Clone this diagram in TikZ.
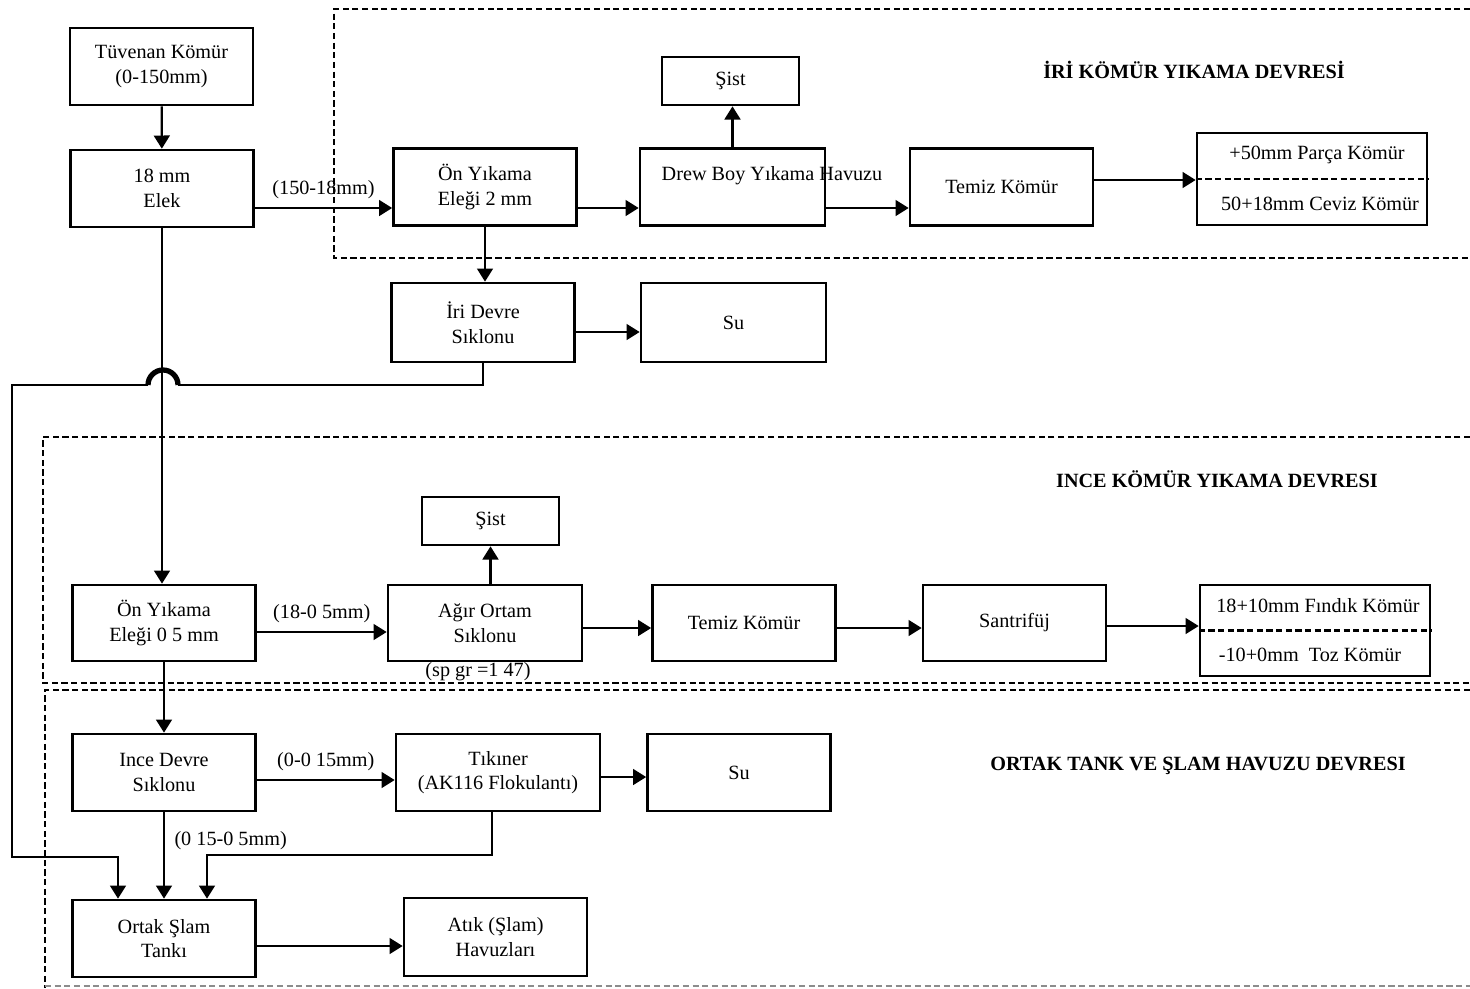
\documentclass[tikz,border=0pt]{standalone}
\usepackage{fontspec}
\setmainfont{Liberation Serif}
\usetikzlibrary{arrows.meta,calc,positioning}

\begin{document}
\begin{tikzpicture}[x=0.2mm,y=0.2mm,
  font=\fontsize{11.5}{14}\selectfont,
  blok/.style={draw,line width=1.5pt,inner sep=0pt,align=center,minimum width=36.6mm,minimum height=15.4mm},
  sistblok/.style={blok,minimum width=27.4mm,minimum height=9.6mm},
  urunblok/.style={blok,minimum width=46mm,minimum height=18.4mm},
  ok/.style={line width=1.3pt,-{Triangle[length=7.5pt,width=9pt]}},
  hat/.style={line width=1.3pt},
  cerceve/.style={line width=1pt,dash pattern=on 3.5pt off 2pt},
  baslik/.style={font=\fontsize{11.5}{14}\selectfont\bfseries}]
  \useasboundingbox (0,0) rectangle (1470,-988);
  % devre cerceveleri
  \draw[cerceve] (1470,-9) -- (334,-9) -- (334,-258) -- (1470,-258);
  \draw[cerceve] (1470,-437) -- (43,-437) -- (43,-683) -- (1470,-683);
  \draw[cerceve] (1470,-690) -- (45,-690) -- (45,-988);
  \draw[cerceve,black!45] (45,-986) -- (1470,-986);
  \node[baslik] (iribaslik) at (1194,-70) {İRİ KÖMÜR YIKAMA DEVRESİ};
  \node[baslik] (incebaslik) at (1217,-479) {INCE KÖMÜR YIKAMA DEVRESI};
  \node[baslik] (ortakbaslik) at (1198,-766) {ORTAK TANK VE ŞLAM HAVUZU DEVRESI};

  % iri komur
  \node[blok] (tuvenan) at (161.5,-66.5) {Tüvenan Kömür\\(0-150mm)};
  \node[blok] (elek) at (162,-188.5) {18 mm\\Elek};
  \node[blok] (onyikama1) at (485,-187) {Ön Yıkama\\Eleği 2 mm};
  \node[blok,minimum width=37mm] (drew) at (732.5,-187) {};
  \node (drewyazi) at (772,-176) {Drew Boy Yıkama Havuzu};
  \node[sistblok] (sist1) at (730.5,-81) {Şist};
  \node[blok] (temiz1) at (1001.5,-187) {Temiz Kömür};
  \node[urunblok] (urun1) at (1312,-179) {};
  \node (parca) at (1317,-155) {+50mm Parça Kömür};
  \node (ceviz) at (1320,-204) {50+18mm Ceviz Kömür};
  \draw[cerceve,line width=1.2pt] (urun1.west) -- (urun1.east);
  \node[blok,minimum height=15.8mm] (iridevre) at (483,-322.5) {İri Devre\\Sıklonu};
  \node[blok,minimum width=37mm,minimum height=15.8mm] (su1) at (733.5,-322.5) {Su};

  % ince komur
  \node[blok,minimum height=15.2mm] (onyikama2) at (164,-623) {Ön Yıkama\\Eleği 0 5 mm};
  \node[blok,minimum width=38.8mm,minimum height=15.2mm] (agir) at (485,-623) {Ağır Ortam\\Sıklonu};
  \node[sistblok] (sist2) at (490.5,-521) {Şist};
  \node (spgr) at (478,-672) {(sp gr =1 47)};
  \node[blok,minimum height=15.2mm] (temiz2) at (744,-623) {Temiz Kömür};
  \node[blok,minimum height=15.2mm] (santrifuj) at (1014.5,-623) {Santrifüj};
  \node[urunblok,minimum height=18.2mm] (urun2) at (1315,-630.5) {};
  \node (findik) at (1318,-606) {18+10mm Fındık Kömür};
  \node (toz) at (1310,-655) {-10+0mm~~Toz Kömür};
  \draw[cerceve,line width=1.2pt] (urun2.west) -- (urun2.east);

  % ortak tank
  \node[blok] (incedevre) at (164,-772.5) {Ince Devre\\Sıklonu};
  \node[blok,minimum width=40.8mm] (tikiner) at (498,-772.5) {Tıkıner\\(AK116 Flokulantı)};
  \node[blok] (su3) at (739,-772.5) {Su};
  \node[blok] (ortak) at (164,-938.5) {Ortak Şlam\\Tankı};
  \node[blok,minimum height=15.6mm] (atik) at (495.5,-937) {Atık (Şlam)\\Havuzları};

  % baglantilar
  \draw[ok] (tuvenan) -- (elek);
  \draw[ok] (elek.east |- 0,-208) -- node[above=1pt] (etiket1) {(150-18mm)} (onyikama1.west |- 0,-208);
  \draw[ok] (onyikama1.east |- 0,-208) -- (drew.west |- 0,-208);
  \draw[ok] (drew.east |- 0,-208) -- (temiz1.west |- 0,-208);
  \draw[ok] (drew.north) -- (drew.north |- sist1.south);
  \draw[ok] (temiz1.east |- 0,-180) -- (urun1.west |- 0,-180);
  \draw[ok] (onyikama1.south) -- (onyikama1.south |- iridevre.north);
  \draw[ok] (iridevre.east |- 0,-332) -- (su1.west |- 0,-332);
  \draw[ok] (elek.south) -- (elek.south |- onyikama2.north);
  \draw[hat] (iridevre.south) |- (178,-385);
  \draw[line width=3pt] (178,-385) arc[start angle=0,end angle=180,radius=15];
  \draw[ok] (148,-385) -- (12,-385) |- (118,-857) -- (ortak.north -| 118,0);

  \draw[ok] (onyikama2.east |- 0,-632) -- node[above=1pt] (etiket2) {(18-0 5mm)} (agir.west |- 0,-632);
  \draw[ok] (sist2.south |- agir.north) -- (sist2.south);
  \draw[ok] (agir.east |- 0,-628) -- (temiz2.west |- 0,-628);
  \draw[ok] (temiz2.east |- 0,-628) -- (santrifuj.west |- 0,-628);
  \draw[ok] (santrifuj.east |- 0,-626) -- (urun2.west |- 0,-626);
  \draw[ok] (onyikama2.south) -- (onyikama2.south |- incedevre.north);

  \draw[ok] (incedevre.east |- 0,-780) -- node[above=1pt] (etiket3) {(0-0 15mm)} (tikiner.west |- 0,-780);
  \draw[ok] (tikiner.east |- 0,-777) -- (su3.west |- 0,-777);
  \draw[ok] (incedevre.south) -- node[right=2pt,pos=0.33] (etiket4) {(0 15-0 5mm)} (incedevre.south |- ortak.north);
  \draw[ok] (tikiner.south -| 492,0) |- (207,-855) -- (ortak.north -| 207,0);
  \draw[ok] (ortak.east |- 0,-946) -- (atik.west |- 0,-946);
\end{tikzpicture}
\end{document}
